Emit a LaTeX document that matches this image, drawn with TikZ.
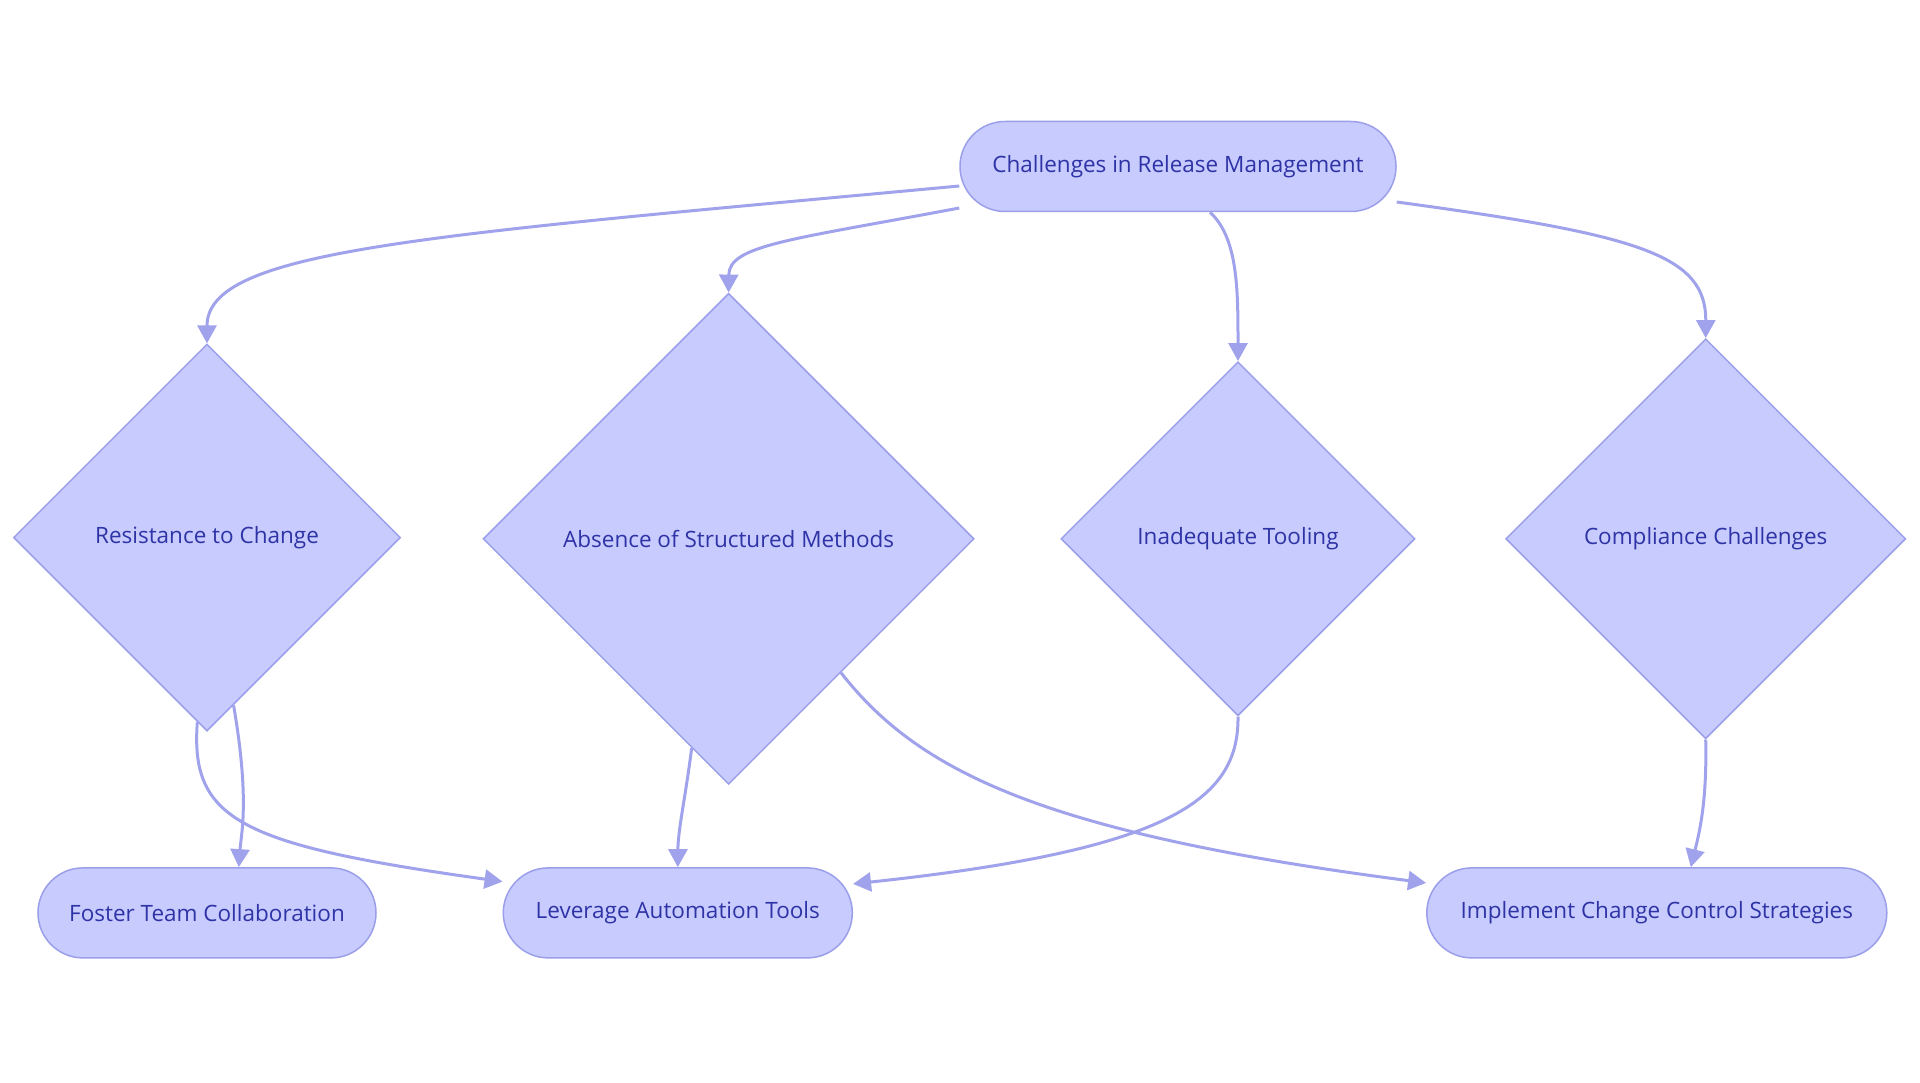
\documentclass[tikz,border=0pt]{standalone}
\usepackage{fontspec}
\setmainfont{Open Sans}
\usetikzlibrary{shapes.geometric,shapes.misc,arrows.meta,calc}
\definecolor{nodefill}{HTML}{C8CBFD}
\definecolor{nodeborder}{HTML}{9B9FEA}
\definecolor{nodetext}{HTML}{2E33A6}
\definecolor{edgecol}{HTML}{A0A3EC}
\begin{document}
\begin{tikzpicture}[x=1pt,y=-1pt,
  base/.style={fill=nodefill,draw=nodeborder,line width=1.5pt,text=nodetext,font=\fontsize{22.5}{26}\selectfont,inner sep=0pt},
  pill/.style={base,rounded rectangle,minimum height=90pt},
  dia/.style={base,diamond,aspect=1},
  link/.style={draw=edgecol,line width=3pt,-{Triangle[length=18pt,width=19pt]}}]
\fill[white] (0,0) rectangle (1920,1083);
\useasboundingbox (0,0) rectangle (1920,1083);
\node[pill,minimum width=436pt] (top) at (1178,166.5) {Challenges in Release Management};
\node[dia,minimum size=387pt] (res) at (207,537.6) {Resistance to Change};
\node[dia,minimum size=491pt] (abs) at (728.6,538.8) {Absence of Structured Methods};
\node[dia,minimum size=354pt] (inad) at (1238,538.8) {Inadequate Tooling};
\node[dia,minimum size=400pt] (comp) at (1705.7,538.8) {Compliance Challenges};
\node[pill,minimum width=338pt] (fos) at (207,912.9) {Foster Team Collaboration};
\node[pill,minimum width=349pt] (lev) at (677.8,912.9) {Leverage Automation Tools};
\node[pill,minimum width=460pt] (imp) at (1656.8,912.9) {Implement Change Control Strategies};
\draw[link] ($(top.west)+(0,19.5)$) .. controls (420,236) and (207,250) .. (res.north);
\draw[link] ($(top.west)+(0,41.5)$) .. controls (790,240) and (729,245) .. (abs.north);
\draw[link] ($(top.south)+(32,0)$) .. controls (1238,238) and (1238,290) .. (inad.north);
\draw[link] ($(top.east)+(0,35.5)$) .. controls (1640,235) and (1706,255) .. (comp.north);
\draw[link] (res.-81) .. controls (250,800) and (241,835) .. ($(fos.north)+(31.8,0)$);
\draw[link] (res.-93) .. controls (190,820) and (240,845) .. ($(lev.west)+(0,-31.3)$);
\draw[link] (abs.-100) .. controls (685,800) and (678,830) .. (lev.north);
\draw[link] (abs.-50) .. controls (918,771) and (1041,833) .. ($(imp.west)+(0,-30)$);
\draw[link] (inad.south) .. controls (1239,800) and (1170,850) .. ($(lev.east)+(0,-29)$);
\draw[link] (comp.south) .. controls (1707,800) and (1700,830) .. ($(imp.north)+(34,0)$);
\end{tikzpicture}
\end{document}
